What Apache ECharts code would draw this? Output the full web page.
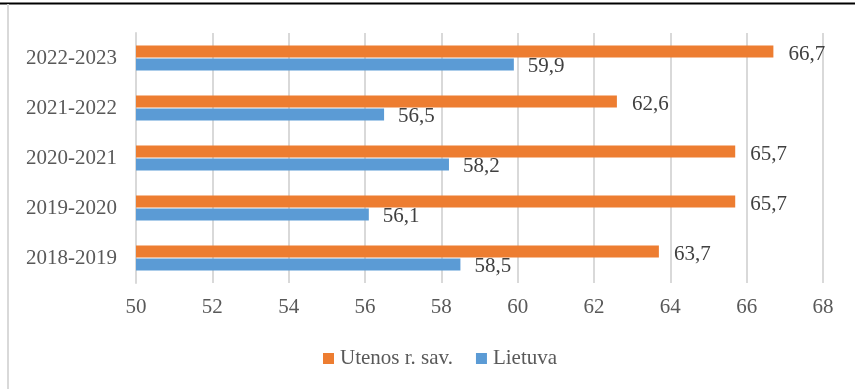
<!DOCTYPE html>
<html><head><meta charset="utf-8">
<script src="https://cdn.jsdelivr.net/npm/echarts@6/dist/echarts.min.js"></script>
<style>html,body{margin:0;padding:0;background:#fff}#c{width:855px;height:389px}</style>
</head><body><div id="c"></div>
<script>
const categories = ['2018-2019','2019-2020','2020-2021','2021-2022','2022-2023'];
const utenos = [63.7, 65.7, 65.7, 62.6, 66.7];
const lietuva = [58.5, 56.1, 58.2, 56.5, 59.9];
const xTicks = {min: 50, max: 68, interval: 2};
const seriesNames = ['Utenos r. sav.', 'Lietuva'];

const font = '"Liberation Serif", "Times New Roman", serif';
const txt = '#595959';
const fmt = p => String(p.value).replace('.', ',');
const chart = echarts.init(document.getElementById('c'), null, {renderer: 'canvas'});
chart.setOption({
  animation: false,
  backgroundColor: '#fff',
  graphic: [
    {type: 'line', shape: {x1: 0, y1: 3.5, x2: 855, y2: 3.5}, style: {stroke: '#000', lineWidth: 2}},
    {type: 'line', shape: {x1: 8, y1: 4, x2: 8, y2: 389}, style: {stroke: '#d9d9d9', lineWidth: 2}}
  ],
  grid: {left: 136, right: 32, top: 33, height: 250},
  legend: {
    data: seriesNames, bottom: 20, left: 323, padding: 0,
    itemWidth: 11, itemHeight: 11, itemGap: 23,
    icon: 'rect',
    textStyle: {fontFamily: font, fontSize: 21, color: txt, padding: [0, 0, 0, 1]}
  },
  xAxis: {
    type: 'value', min: xTicks.min, max: xTicks.max, interval: xTicks.interval,
    axisLine: {show: false}, axisTick: {show: false},
    splitLine: {lineStyle: {color: '#d9d9d9', width: 2}},
    axisLabel: {fontFamily: font, fontSize: 21, color: txt, margin: 14}
  },
  yAxis: {
    type: 'category', data: categories,
    axisLine: {lineStyle: {color: '#d9d9d9', width: 2}},
    axisTick: {show: false},
    axisLabel: {fontFamily: font, fontSize: 21, color: txt, margin: 19}
  },
  series: [
    {name: seriesNames[0], type: 'bar', data: utenos, barWidth: 12, barGap: '8%',
     itemStyle: {color: '#ED7D31'},
     label: {show: true, position: 'right', distance: 15, formatter: fmt, fontFamily: font, fontSize: 21, color: '#404040', offset: [0, 3]}},
    {name: seriesNames[1], type: 'bar', data: lietuva, barWidth: 12, barGap: '8%',
     itemStyle: {color: '#5B9BD5'},
     label: {show: true, position: 'right', distance: 14, formatter: fmt, fontFamily: font, fontSize: 21, color: '#404040', offset: [0, 2]}}
  ]
});
</script></body></html>
